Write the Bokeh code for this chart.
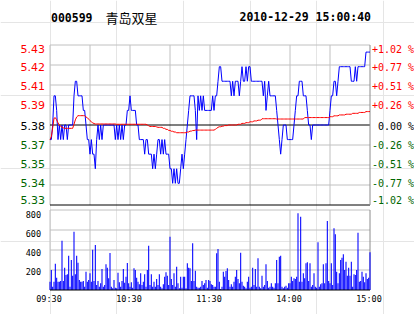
from bokeh.plotting import figure
from bokeh.models import Range1d
from bokeh.core.properties import value
from bokeh.embed import file_html
from bokeh.resources import INLINE

stock_code = "000599"
stock_name = "青岛双星"
stamp = "2010-12-29 15:00:40"
prev_close = 5.38

price = [
    5.37, 5.37, 5.38, 5.40, 5.40, 5.39, 5.37, 5.38, 5.37, 5.38,
    5.37, 5.38, 5.38, 5.37, 5.38, 5.38, 5.38, 5.38, 5.40, 5.41,
    5.41, 5.40, 5.40, 5.40, 5.40, 5.39, 5.39, 5.38, 5.37, 5.37,
    5.36, 5.37, 5.36, 5.36, 5.35, 5.37, 5.38, 5.37, 5.38, 5.37,
    5.38, 5.38, 5.38, 5.38, 5.38, 5.38, 5.38, 5.38, 5.38, 5.37,
    5.38, 5.37, 5.38, 5.37, 5.38, 5.37, 5.38, 5.38, 5.39, 5.39,
    5.40, 5.39, 5.39, 5.39, 5.39, 5.38, 5.38, 5.37, 5.37, 5.37,
    5.37, 5.36, 5.37, 5.37, 5.36, 5.36, 5.36, 5.35, 5.36, 5.35,
    5.36, 5.37, 5.37, 5.36, 5.37, 5.36, 5.37, 5.36, 5.36, 5.36,
    5.35, 5.35, 5.34, 5.35, 5.34, 5.35, 5.34, 5.34, 5.35, 5.36,
    5.35, 5.36, 5.37, 5.38, 5.39, 5.40, 5.40, 5.40, 5.40, 5.39,
    5.37, 5.40, 5.39, 5.40, 5.39, 5.40, 5.39, 5.39, 5.39, 5.39,
    5.39, 5.39, 5.40, 5.39, 5.40, 5.40, 5.41, 5.42, 5.42, 5.41,
    5.41, 5.41, 5.41, 5.41, 5.41, 5.41, 5.40, 5.41, 5.40, 5.41,
    5.41, 5.41, 5.40, 5.41, 5.42, 5.41, 5.41, 5.42, 5.41, 5.42,
    5.42, 5.41, 5.41, 5.41, 5.41, 5.41, 5.41, 5.41, 5.41, 5.41,
    5.40, 5.41, 5.39, 5.40, 5.41, 5.40, 5.40, 5.40, 5.40, 5.40,
    5.39, 5.38, 5.37, 5.36, 5.37, 5.38, 5.38, 5.38, 5.37, 5.37,
    5.37, 5.37, 5.37, 5.38, 5.39, 5.40, 5.40, 5.41, 5.41, 5.41,
    5.40, 5.40, 5.40, 5.39, 5.38, 5.38, 5.37, 5.38, 5.38, 5.38,
    5.38, 5.38, 5.38, 5.38, 5.38, 5.38, 5.38, 5.38, 5.38, 5.38,
    5.39, 5.40, 5.40, 5.41, 5.41, 5.40, 5.41, 5.42, 5.42, 5.42,
    5.42, 5.42, 5.42, 5.42, 5.42, 5.42, 5.41, 5.41, 5.41, 5.42,
    5.41, 5.42, 5.42, 5.42, 5.42, 5.42, 5.42, 5.43, 5.43, 5.43,
    5.43,
]

avg_price = [
    5.3700, 5.3720, 5.3780, 5.3846, 5.3850, 5.3835, 5.3815, 5.3800, 5.3790, 5.3785,
    5.3780, 5.3777, 5.3777, 5.3777, 5.3777, 5.3777, 5.3777, 5.3777, 5.3805, 5.3835,
    5.3855, 5.3864, 5.3864, 5.3864, 5.3864, 5.3864, 5.3864, 5.3855, 5.3850, 5.3840,
    5.3830, 5.3822, 5.3815, 5.3810, 5.3807, 5.3807, 5.3807, 5.3807, 5.3807, 5.3807,
    5.3807, 5.3807, 5.3807, 5.3807, 5.3807, 5.3807, 5.3807, 5.3807, 5.3807, 5.3807,
    5.3805, 5.3805, 5.3805, 5.3805, 5.3805, 5.3805, 5.3805, 5.3805, 5.3805, 5.3805,
    5.3805, 5.3805, 5.3805, 5.3805, 5.3805, 5.3805, 5.3805, 5.3805, 5.3805, 5.3805,
    5.3805, 5.3805, 5.3805, 5.3800, 5.3795, 5.3790, 5.3790, 5.3790, 5.3790, 5.3790,
    5.3787, 5.3784, 5.3784, 5.3784, 5.3784, 5.3777, 5.3777, 5.3770, 5.3770, 5.3763,
    5.3763, 5.3757, 5.3757, 5.3752, 5.3752, 5.3747, 5.3747, 5.3747, 5.3747, 5.3747,
    5.3747, 5.3747, 5.3747, 5.3752, 5.3752, 5.3758, 5.3758, 5.3762, 5.3762, 5.3765,
    5.3765, 5.3765, 5.3765, 5.3765, 5.3765, 5.3765, 5.3765, 5.3765, 5.3765, 5.3765,
    5.3765, 5.3765, 5.3765, 5.3765, 5.3770, 5.3777, 5.3784, 5.3788, 5.3788, 5.3792,
    5.3792, 5.3796, 5.3796, 5.3796, 5.3800, 5.3800, 5.3800, 5.3800, 5.3800, 5.3800,
    5.3800, 5.3805, 5.3805, 5.3805, 5.3811, 5.3811, 5.3811, 5.3816, 5.3816, 5.3816,
    5.3822, 5.3822, 5.3822, 5.3828, 5.3828, 5.3828, 5.3833, 5.3833, 5.3833, 5.3843,
    5.3843, 5.3843, 5.3843, 5.3843, 5.3843, 5.3843, 5.3843, 5.3843, 5.3843, 5.3843,
    5.3841, 5.3841, 5.3841, 5.3841, 5.3841, 5.3841, 5.3841, 5.3841, 5.3841, 5.3841,
    5.3841, 5.3841, 5.3841, 5.3841, 5.3841, 5.3841, 5.3841, 5.3841, 5.3841, 5.3841,
    5.3841, 5.3851, 5.3851, 5.3851, 5.3851, 5.3851, 5.3851, 5.3851, 5.3851, 5.3851,
    5.3851, 5.3851, 5.3851, 5.3851, 5.3851, 5.3851, 5.3851, 5.3851, 5.3851, 5.3851,
    5.3857, 5.3857, 5.3857, 5.3863, 5.3863, 5.3863, 5.3863, 5.3869, 5.3869, 5.3869,
    5.3869, 5.3869, 5.3874, 5.3874, 5.3874, 5.3874, 5.3874, 5.3880, 5.3880, 5.3880,
    5.3880, 5.3880, 5.3886, 5.3886, 5.3886, 5.3886, 5.3886, 5.3892, 5.3892, 5.3892,
    5.3892,
]

volume = [
    83, 200, 33, 83, 263, 123, 83, 83, 90, 493,
    90, 223, 150, 157, 343, 33, 300, 143, 583, 157,
    343, 273, 100, 83, 83, 90, 33, 183, 83, 100,
    167, 83, 403, 90, 450, 50, 90, 33, 67, 210,
    33, 50, 257, 223, 117, 370, 33, 17, 100, 23,
    17, 173, 77, 33, 90, 210, 73, 133, 270, 67,
    33, 77, 23, 217, 200, 123, 83, 57, 167, 50,
    83, 157, 33, 200, 443, 50, 157, 33, 83, 33,
    110, 50, 157, 33, 17, 57, 133, 177, 143, 50,
    533, 110, 50, 167, 33, 233, 67, 17, 133, 23,
    133, 133, 17, 267, 223, 217, 90, 467, 90, 193,
    33, 23, 23, 33, 90, 50, 67, 100, 23, 100,
    90, 57, 50, 33, 33, 367, 410, 83, 10, 33,
    183, 133, 190, 217, 100, 33, 57, 33, 83, 133,
    200, 110, 67, 373, 83, 43, 33, 17, 83, 133,
    23, 33, 223, 50, 210, 33, 317, 33, 17, 143,
    33, 50, 257, 90, 23, 33, 67, 33, 23, 67,
    300, 67, 333, 343, 33, 17, 33, 43, 23, 67,
    67, 133, 90, 117, 110, 133, 767, 83, 733, 83,
    167, 117, 267, 277, 90, 267, 33, 50, 167, 33,
    23, 477, 33, 57, 67, 257, 67, 267, 690, 90,
    67, 267, 50, 617, 557, 183, 67, 167, 300, 323,
    357, 200, 283, 143, 223, 143, 283, 33, 157, 150,
    200, 573, 83, 90, 183, 133, 77, 167, 110, 123,
    377,
]

minute = list(range(len(price)))

pct_levels = [1.02, 0.765, 0.51, 0.255, 0.0, -0.255, -0.51, -0.765, -1.02]
price_labels = ["5.43", "5.42", "5.41", "5.39", "5.38", "5.37", "5.35", "5.34", "5.33"]
pct_labels = ["+1.02 %", "+0.77 %", "+0.51 %", "+0.26 %", "\u00a00.00 %",
              "-0.26 %", "-0.51 %", "-0.77 %", "-1.02 %"]
time_ticks = [0, 60, 120, 180, 240]
time_labels = ["09:30", "10:30", "11:30", "14:00", "15:00"]
grid_minutes = [0, 30, 60, 90, 120, 150, 180, 210]
vol_ticks = [200, 400, 600, 800]
vol_labels = ["200", "400", "600", "800"]

# ---- styling / layout constants ----
UP = "#FF0000"
DOWN = "#006600"
GRID = "#C0C0C0"
EDGE = "#8C8C8C"
W, H = 414, 314
PX_L, PX_R = 49.5, 369.5          # plot left / right edge (px)
P_TOP, P_BOT = 44.5, 204.5        # price panel top / bottom (px from top)
V_TOP, V_BOT = 209.5, 289.5       # volume panel top / bottom (px from top)
VOL_MAX = 800

level_prices = [prev_close * (1 + q / 100.0) for q in pct_levels]
lo, hi = level_prices[-1], level_prices[0]
t0, t1 = minute[0], minute[-1]

mpp = (t1 - t0) / (PX_R - PX_L)          # minutes per pixel
ppp = (hi - lo) / (P_BOT - P_TOP)        # price per pixel
vpp = VOL_MAX / (V_BOT - V_TOP)          # volume per pixel

p = figure(width=W, height=H,
           x_range=Range1d(t0 - PX_L * mpp, t1 + (W - PX_R) * mpp),
           y_range=Range1d(lo - (H - P_BOT) * ppp, hi + P_TOP * ppp),
           x_axis_location=None, y_axis_location=None, tools="",
           toolbar_location=None, output_backend="svg",
           min_border_left=0, min_border_right=0, min_border_top=0,
           min_border_bottom=0, outline_line_color=None)
p.extra_y_ranges = {"vol": Range1d(0 - (H - V_BOT) * vpp, VOL_MAX + V_TOP * vpp)}

# ---- price panel grid ----
grey_levels = [v for v, q in zip(level_prices, pct_levels) if q != 0 and v != lo]
p.segment(x0=[t0] * len(grey_levels), x1=[t1] * len(grey_levels),
          y0=grey_levels, y1=grey_levels, line_color=GRID, line_width=1)
p.segment(x0=grid_minutes, x1=grid_minutes, y0=[lo] * len(grid_minutes),
          y1=[hi] * len(grid_minutes), line_color=GRID, line_width=1)
p.segment(x0=[t0, t0], x1=[t1, t1], y0=[prev_close, lo], y1=[prev_close, lo],
          line_color="black", line_width=1)
p.segment(x0=[t1], x1=[t1], y0=[lo], y1=[hi], line_color=EDGE, line_width=1)

# ---- volume panel grid ----
p.segment(x0=[t0] * len(vol_ticks), x1=[t1] * len(vol_ticks), y0=vol_ticks,
          y1=vol_ticks, line_color=GRID, line_width=1, y_range_name="vol")
p.segment(x0=grid_minutes, x1=grid_minutes, y0=[0] * len(grid_minutes),
          y1=[VOL_MAX] * len(grid_minutes), line_color=GRID, line_width=1,
          y_range_name="vol")
p.segment(x0=[t1], x1=[t1], y0=[0], y1=[VOL_MAX], line_color=EDGE, line_width=1,
          y_range_name="vol")

# ---- data ----
p.vbar(x=minute, top=volume, bottom=0, width=0.8, fill_color="#0000FF",
       line_color=None, y_range_name="vol")
p.segment(x0=[t0], x1=[t1], y0=[0], y1=[0], line_color="black", line_width=1,
          y_range_name="vol")
p.line(minute, price, line_color="#0000FF", line_width=1)
p.line(minute, avg_price, line_color="#FF0000", line_width=1)

# ---- texts ----
colors = [UP if q > 0 else ("#000000" if q == 0 else DOWN) for q in pct_levels]
dy = [4, 2, 1, 0, 1, 0, -1, -2, -5]
p.text(x=[t0] * len(level_prices), y=level_prices, text=price_labels,
       text_color=colors, x_offset=-5, y_offset=dy, text_align="right",
       text_baseline="middle", text_font=value("DejaVu Sans"),
       text_font_size=value("11px"))
p.text(x=[t1] * len(level_prices), y=level_prices, text=pct_labels,
       text_color=colors, x_offset=2, y_offset=dy, text_align="left",
       text_baseline="middle", text_font=value("DejaVu Sans Mono"),
       text_font_size=value("10px"))

p.text(x=[t0] * len(vol_ticks), y=vol_ticks, text=vol_labels, text_color="black",
       x_offset=-9, y_offset=[1, 2, 3, 4], text_align="right",
       text_baseline="middle", text_font=value("DejaVu Sans Mono"),
       text_font_size=value("8.5px"), y_range_name="vol")
p.text(x=time_ticks, y=[0] * len(time_ticks), text=time_labels, text_color="black",
       x_offset=-1, y_offset=9, text_align="center", text_baseline="middle",
       text_font=value("DejaVu Sans Mono"), text_font_size=value("8.5px"),
       y_range_name="vol")

p.text(x=[t0], y=[hi], text=[stock_code], x_offset=1, y_offset=-28,
       text_align="left", text_baseline="middle", text_color="black",
       text_font=value("DejaVu Sans Mono"), text_font_style="bold",
       text_font_size=value("11.5px"))
p.text(x=[t0], y=[hi], text=[stock_name], x_offset=55.5, y_offset=-28,
       text_align="left", text_baseline="middle", text_color="black",
       text_font=value("Noto Sans CJK SC"), text_font_size=value("13px"))
p.text(x=[t1], y=[hi], text=[stamp], x_offset=1, y_offset=-28,
       text_align="right", text_baseline="middle", text_color="black",
       text_font=value("DejaVu Sans Mono"), text_font_style="bold",
       text_font_size=value("11.5px"))

open("out.html", "w").write(file_html(p, INLINE))
